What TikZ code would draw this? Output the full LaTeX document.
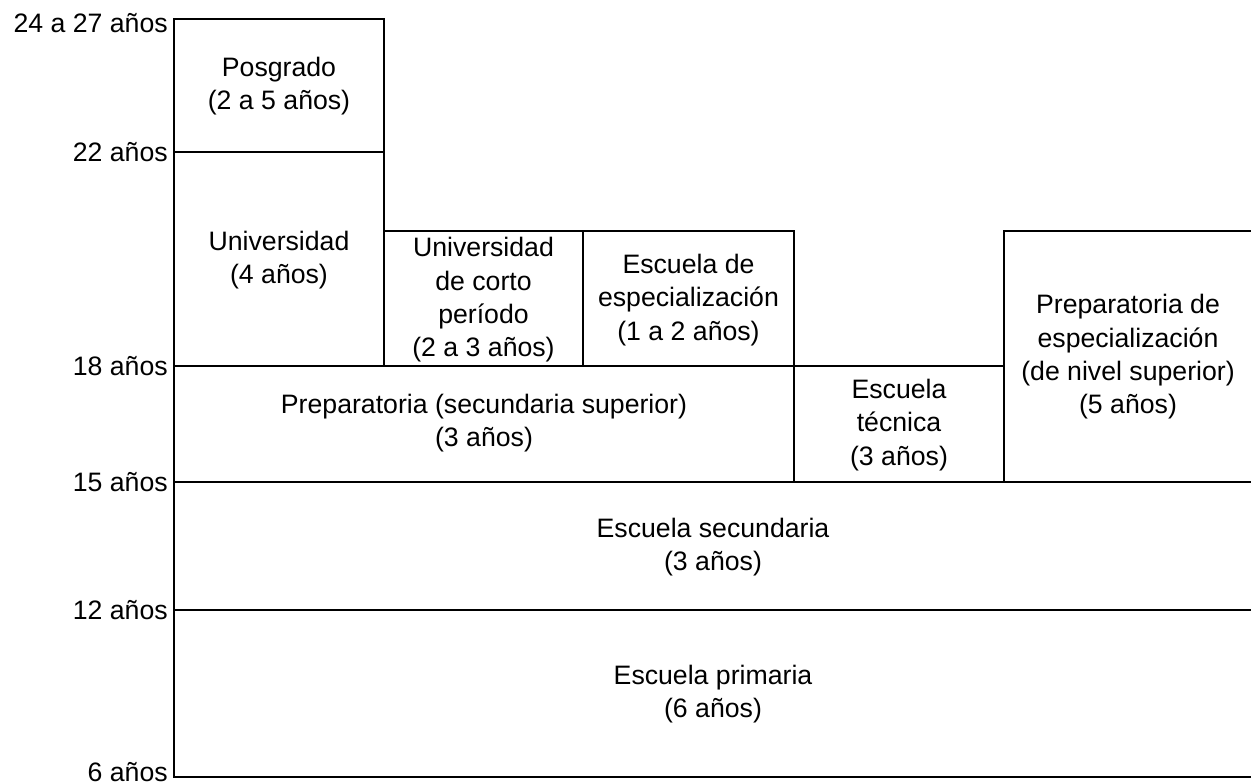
\documentclass[tikz,border=0pt]{standalone}
\usepackage{fontspec}
\setmainfont{Liberation Sans}

\begin{document}
\begin{tikzpicture}[x=0.75pt,y=0.75pt,yscale=-1,xscale=1]
\tikzset{level/.style={line width=1.8},
  txt/.style={align=center, inner sep=0.75pt, font=\fontsize{20}{25}\selectfont},
  age/.style={anchor=east, inner sep=0pt, font=\fontsize{20}{25}\selectfont}}
\useasboundingbox (0,0) rectangle (1251,782);
\clip (0,0) rectangle (1251,782);

%Shape: Rectangle [id:posgrado]
\draw [level] (174,19) -- (384,19) -- (384,152) -- (174,152) -- cycle ;
%Shape: Rectangle [id:universidad]
\draw [level] (174,152) -- (384,152) -- (384,366) -- (174,366) -- cycle ;
%Shape: Rectangle [id:corto]
\draw [level] (384,231) -- (583,231) -- (583,366) -- (384,366) -- cycle ;
%Shape: Rectangle [id:escesp]
\draw [level] (583,231) -- (794,231) -- (794,366) -- (583,366) -- cycle ;
%Shape: Rectangle [id:prepa]
\draw [level] (174,366) -- (794,366) -- (794,482) -- (174,482) -- cycle ;
%Shape: Rectangle [id:tecnica]
\draw [level] (794,366) -- (1004,366) -- (1004,482) -- (794,482) -- cycle ;
%Shape: Rectangle [id:prepesp]
\draw [level] (1004,231) -- (1252,231) -- (1252,482) -- (1004,482) -- cycle ;
%Shape: Rectangle [id:secundaria]
\draw [level] (174,482) -- (1252,482) -- (1252,610) -- (174,610) -- cycle ;
%Shape: Rectangle [id:primaria]
\draw [level] (174,610) -- (1252,610) -- (1252,777) -- (174,777) -- cycle ;

% Text Node
\node [txt] (posgrado) at (279,86) {Posgrado\\(2 a 5 años)};
% Text Node
\node [txt] (universidad) at (279,260) {Universidad\\(4 años)};
% Text Node
\node [txt] (corto) at (483.5,300) {Universidad\\de corto\\período\\(2 a 3 años)};
% Text Node
\node [txt] (escesp) at (688.5,300) {Escuela de\\especialización\\(1 a 2 años)};
% Text Node
\node [txt] (prepa) at (484,423) {Preparatoria (secundaria superior)\\(3 años)};
% Text Node
\node [txt] (tecnica) at (899,425) {Escuela\\técnica\\(3 años)};
% Text Node
\node [txt] (prepesp) at (1128,357) {Preparatoria de\\especialización\\(de nivel superior)\\(5 años)};
% Text Node
\node [txt] (secundaria) at (713,547) {Escuela secundaria\\(3 años)};
% Text Node
\node [txt] (primaria) at (713,694) {Escuela primaria\\(6 años)};

% Text Node
\node [age] (a24) at (168,23) {24 a 27 años};
% Text Node
\node [age] (a22) at (168,152) {22 años};
% Text Node
\node [age] (a18) at (168,366) {18 años};
% Text Node
\node [age] (a15) at (168,482) {15 años};
% Text Node
\node [age] (a12) at (168,610) {12 años};
% Text Node
\node [age] (a6) at (168,772) {6 años};

\end{tikzpicture}
\end{document}
